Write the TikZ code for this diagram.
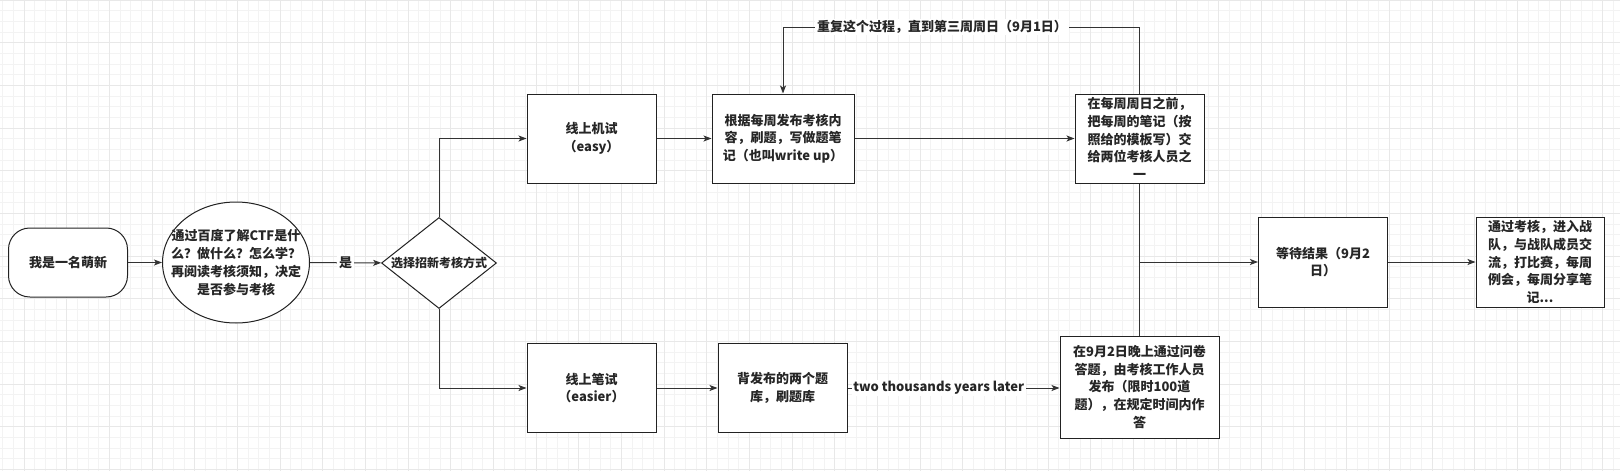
\documentclass[tikz,border=0pt]{standalone}
\usepackage{fontspec}
\setmainfont{Noto Sans CJK SC}
\usetikzlibrary{shapes.geometric,arrows.meta}
\definecolor{gridminor}{HTML}{F3F3F3}
\definecolor{gridmajor}{HTML}{E8E8E8}
\definecolor{linec}{HTML}{333333}
\definecolor{boxc}{HTML}{222222}
\begin{document}
\begin{tikzpicture}[x=0.75pt,y=-0.75pt,
  every node/.style={font=\fontsize{9.75pt}{13.3pt}\selectfont\bfseries, text=black!85},
  box/.style={draw=boxc, line width=0.75pt, fill=white, inner sep=0pt, align=center,
    minimum width=96.75pt, minimum height=66.75pt},
  shapeonly/.style={draw=boxc, line width=0.75pt, fill=white, inner sep=0pt},
  txt/.style={align=center, inner sep=0pt},
  arr/.style={draw=linec, line width=0.75pt, -{Stealth[length=6pt,width=4.5pt,inset=1.5pt]}},
  ln/.style={draw=linec, line width=0.75pt},
  lab/.style={fill=white, inner sep=1.2pt}]
\useasboundingbox (0,0) rectangle (1620,471);
% background and grid
\begin{scope}
\clip (0,0) rectangle (1620,471);
\fill[white] (0,0) rectangle (1620,471);
\foreach \i in {0,...,152} {\draw[gridminor, line width=0.75pt] (2.67+\i*10.667,0) -- (2.67+\i*10.667,471);}
\foreach \i in {0,...,44} {\draw[gridminor, line width=0.75pt] (0,\i*10.667) -- (1620,\i*10.667);}
\foreach \i in {0,...,37} {\draw[gridmajor, line width=0.75pt] (24+\i*42.667,0) -- (24+\i*42.667,471);}
\foreach \i in {0,...,11} {\draw[gridmajor, line width=0.75pt] (0,\i*42.667) -- (1620,\i*42.667);}
\end{scope}

% nodes
\node[shapeonly, rounded corners=16pt, minimum width=89.25pt, minimum height=51.75pt] (start) at (68,262.5) {};
\node[txt] (start-t) at (start) {我是一名萌新};

\node[shapeonly, ellipse, minimum width=110.25pt, minimum height=90.75pt] (ell) at (236,262.5) {};
\node[txt] (ell-t) at (ell) {通过百度了解CTF是什\\么？做什么？怎么学？\\再阅读考核须知，决定\\是否参与考核};

\node[shapeonly, diamond, minimum width=86.25pt, minimum height=68.25pt] (dia) at (439,263) {};
\node[txt, font=\fontsize{9pt}{11pt}\selectfont\bfseries] (dia-t) at (dia) {选择招新考核方式};

\node[box] (A) at (591.5,138.5) {线上机试\\（easy）};
\node[box, minimum width=106.5pt] (B) at (783,138.5) {根据每周发布考核内\\容，刷题，写做题笔\\记（也叫write up）};
\node[box] (C) at (1139.5,138.5) {在每周周日之前，\\把每周的笔记（按\\照给的模板写）交\\给两位考核人员之\\一};

\node[box] (D) at (591.5,388) {线上笔试\\（easier）};
\node[box] (E) at (782.5,388) {背发布的两个题\\库，刷题库};
\node[box, minimum width=119.25pt, minimum height=76.5pt] (F) at (1139.5,387) {在9月2日晚上通过问卷\\答题，由考核工作人员\\发布（限时100道\\题），在规定时间内作\\答};

\node[box, minimum height=67.5pt] (G) at (1323,262) {等待结果（9月2\\日）};
\node[box, minimum width=96pt, minimum height=67.5pt] (H) at (1540,262) {通过考核，进入战\\队，与战队成员交\\流，打比赛，每周\\例会，每周分享笔\\记...};

% connectors
\draw[arr] (start) -- (ell);
\draw[arr] (ell) -- node[lab] {是} (dia);
\draw[arr] (dia.north) |- (A.west);
\draw[arr] (dia.south) |- (D.west);
\draw[arr] (A) -- (B);
\draw[arr] (B) -- (C);
\coordinate (loop) at (942,27);
\draw[arr] (C.north) |- (loop) node[lab] {重复这个过程，直到第三周周日（9月1日）} -| (B.north);
\draw[arr] (D) -- (E);
\draw[arr] (E.east) -- node[lab, pos=0.43] {two thousands years later} (F.west |- E.east);
\draw[ln] (C.south) -- (F.north);
\coordinate (j) at (1139.5,262);
\draw[arr] (j) -- (G.west);
\draw[arr] (G) -- (H);
\end{tikzpicture}
\end{document}
